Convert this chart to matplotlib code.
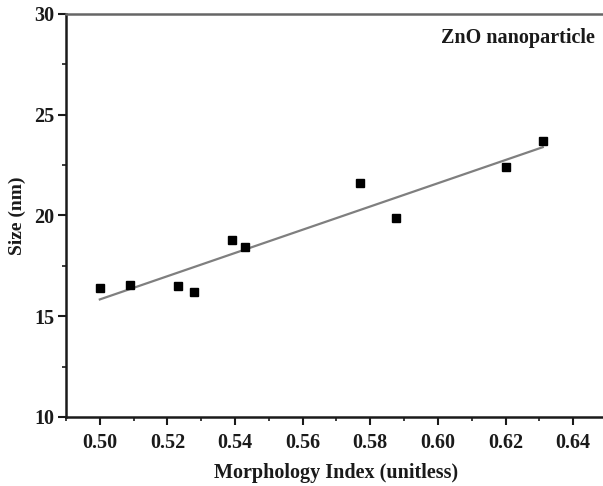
import numpy as np
import matplotlib
matplotlib.use("Agg")
import matplotlib.pyplot as plt
from matplotlib.ticker import MultipleLocator

morph_index = [0.500, 0.509, 0.523, 0.528, 0.539, 0.543, 0.577, 0.5875, 0.620, 0.631]
size_nm = [16.4, 16.55, 16.5, 16.2, 18.8, 18.45, 21.6, 19.88, 22.42, 23.7]
x_ticks = [0.50, 0.52, 0.54, 0.56, 0.58, 0.60, 0.62, 0.64]
y_ticks = [10, 15, 20, 25, 30]

plt.rcParams['font.family'] = ['Liberation Serif', 'DejaVu Serif']
plt.rcParams['font.weight'] = 'bold'

fig = plt.figure(figsize=(6.03, 4.86), dpi=100)
ax = fig.add_axes([66/603, 1-417/486, (607-66)/603, (417-14)/486])

slope, intercept = np.polyfit(morph_index, size_nm, 1)
xf = np.array([min(morph_index), max(morph_index)])
ax.plot(xf, slope*xf + intercept, color='#7f7f7f', lw=1.6, zorder=2)
ax.plot(morph_index, size_nm, 's', color='black', ms=6.2, zorder=3)

ax.set_xlim(0.49, 0.65)
ax.set_ylim(10, 30)
ax.set_xticks(x_ticks)
ax.set_yticks(y_ticks)
ax.set_xticklabels([f"{v:.2f}" for v in x_ticks])
ax.xaxis.set_minor_locator(MultipleLocator(0.01))
ax.yaxis.set_minor_locator(MultipleLocator(2.5))
ax.tick_params(which='major', direction='out', length=5.5, width=1.5, labelsize=14.5, colors='#1a1a1a')
ax.tick_params(which='minor', direction='out', length=2.8, width=1.2, colors='#1a1a1a')
ax.tick_params(axis='x', which='major', pad=6)
ax.tick_params(axis='y', which='major', pad=3)
for lab in ax.get_xticklabels() + ax.get_yticklabels():
    lab.set_fontweight('bold')

for s in ['left', 'bottom']:
    ax.spines[s].set_linewidth(1.8)
    ax.spines[s].set_color('#1a1a1a')
ax.spines['top'].set_linewidth(1.8)
ax.spines['top'].set_color('#666666')
ax.spines['right'].set_linewidth(1.0)
ax.spines['right'].set_color('#cccccc')

ax.set_xlabel('Morphology Index (unitless)', fontsize=14.5, fontweight='bold', color='#1a1a1a', labelpad=7)
ax.set_ylabel('Size (nm)', fontsize=14, fontweight='bold', color='#1a1a1a', labelpad=6)
fig.text(595/603, 1-38/486, 'ZnO nanoparticle', ha='right', va='center', fontsize=14.5, fontweight='bold', color='#1a1a1a')

fig.savefig('out.png', dpi=100, facecolor='white')
